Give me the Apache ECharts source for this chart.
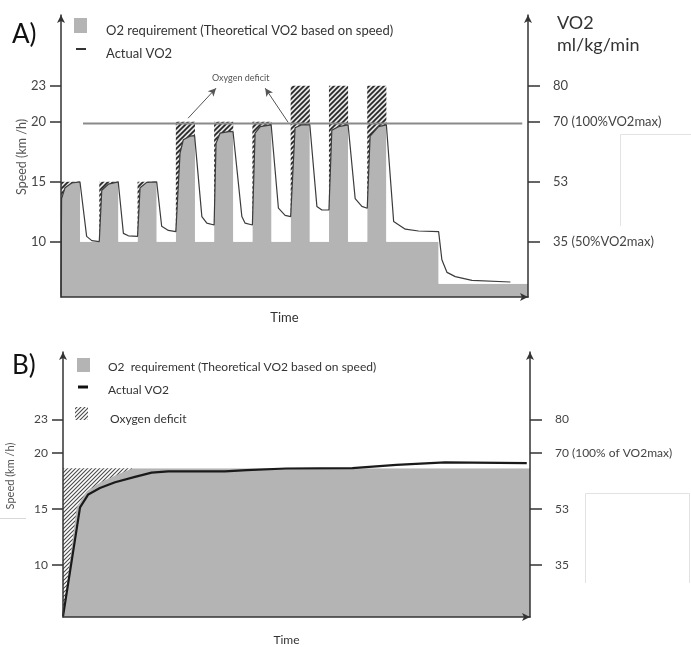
<!DOCTYPE html>
<html>
<head>
<meta charset="utf-8">
<script src="https://cdn.jsdelivr.net/npm/echarts@6/dist/echarts.min.js"></script>
<style>
  html, body { margin: 0; padding: 0; background: #fff; }
  #main { width: 691px; height: 647px; }
</style>
</head>
<body>
<div id="main"></div>
<script>
var dom = document.getElementById("main");
var myChart = echarts.init(dom);

// speed ticks shared by both panels, VO2 labels on the right
var speedTicks = [10, 15, 20, 23];
var vo2LabelsA = ['35 (50%VO2max)', '53', '70 (100%VO2max)', '80'];
var vo2LabelsB = ['35', '53', '70 (100% of VO2max)', '80'];

// panel A : intermittent runs  [time, speed]
var stepA = [
    [0, 15], [1, 10], [2, 15], [3, 10], [4, 15], [5, 10],
    [6, 20], [7, 10], [8, 20], [9, 10], [10, 20], [11, 10],
    [12, 23], [13, 10], [14, 23], [15, 10], [16, 23], [17, 10],
    [19.73, 6.5], [24.4, 6.5]
];
var vo2A = [
    [0, 5.5], [0.03, 13.6], [0.21, 14.5], [0.56, 14.9], [0.99, 15.0],
    [1.34, 10.45], [1.61, 10.1], [2.0, 10.02],
    [2.13, 14.3], [2.47, 14.8], [2.99, 15.0],
    [3.26, 10.7], [3.52, 10.5], [4.0, 10.45],
    [4.13, 14.5], [4.48, 14.95], [5.0, 15.0],
    [5.26, 11.3], [5.61, 10.95], [6.0, 10.85],
    [6.22, 17.4], [6.39, 18.5], [6.74, 18.8], [6.98, 18.85],
    [7.36, 12.1], [7.62, 11.55], [8.0, 11.4],
    [8.1, 18.2], [8.31, 19.05], [8.84, 19.2], [8.99, 19.15],
    [9.45, 12.1], [9.62, 11.55], [10.0, 11.4],
    [10.14, 19.05], [10.41, 19.6], [10.98, 19.75],
    [11.36, 12.8], [11.71, 12.2], [12.0, 12.1],
    [12.23, 19.5], [12.59, 19.75], [13.0, 19.75],
    [13.37, 12.95], [13.63, 12.65], [14.0, 12.65],
    [14.15, 19.3], [14.5, 19.6], [15.0, 19.75],
    [15.37, 13.6], [15.72, 12.95], [16.0, 12.8],
    [16.15, 18.8], [16.59, 19.6], [17.0, 19.75],
    [17.38, 11.7], [17.99, 11.05], [18.68, 10.9], [19.73, 10.85],
    [19.9, 8.5], [20.17, 7.45], [20.6, 7.1], [21.47, 6.78], [23.48, 6.65]
];
var maxLineA = [[1.15, 19.85], [24.1, 19.85]];
var arrowsA = [
    [[6.64, 20.3], [8.1, 22.8]],
    [[11.87, 19.95], [10.67, 22.8]]
];

// panel B : continuous run
var stepB = [[0, 18.65], [24.4, 18.65]];
var vo2B = [
    [0, 5.4], [0.89, 15.15], [1.32, 16.3], [1.93, 16.87], [2.72, 17.39],
    [3.76, 17.87], [4.63, 18.25], [5.5, 18.36], [8.46, 18.36], [9.6, 18.47],
    [11.67, 18.62], [15.12, 18.65], [17.42, 18.94], [19.96, 19.16], [24.23, 19.11]
];
var deficitEdgeB = [
    [0, 5.4], [0.72, 15.15], [1.24, 16.58], [2.02, 17.44], [3.07, 18.25], [3.76, 18.7]
];

var FONT = 'Lato';
var GREY = '#b4b4b4';

function hatch(bg, fg, size, width) {
    var c = document.createElement('canvas');
    c.width = size; c.height = size;
    var ctx = c.getContext('2d');
    ctx.fillStyle = bg;
    ctx.fillRect(0, 0, size, size);
    ctx.strokeStyle = fg;
    ctx.lineWidth = width;
    ctx.beginPath();
    ctx.moveTo(0, size); ctx.lineTo(size, 0);
    ctx.moveTo(-size, size); ctx.lineTo(size, -size);
    ctx.moveTo(0, 2 * size); ctx.lineTo(2 * size, 0);
    ctx.stroke();
    return { image: c, repeat: 'repeat' };
}
var hatchA = hatch('#e4e4e4', '#262626', 5, 1.7);
var hatchB = hatch('#ffffff', '#4a4a4a', 4, 1.1);

function xAx(grid, gap, fs) {
    return {
        type: 'value', gridIndex: grid, min: 0, max: 24.4, z: 10,
        axisLine: { show: true, onZero: false, symbol: ['none', 'arrow'], symbolSize: [6, 8],
            lineStyle: { color: '#333', width: 1.5 } },
        axisTick: { show: false }, axisLabel: { show: false }, splitLine: { show: false },
        name: 'Time', nameLocation: 'middle', nameGap: gap,
        nameTextStyle: { fontFamily: FONT, fontSize: fs, color: '#333', padding: [0, 20, 0, 0] }
    };
}
function yAx(grid, min, max, side, labels, fs) {
    return {
        type: 'value', gridIndex: grid, min: min, max: max, position: side, z: 10,
        axisLine: { show: true, onZero: false, symbol: ['none', 'arrow'], symbolSize: [6, 8],
            lineStyle: { color: '#333', width: 1.5 } },
        axisTick: { show: true, length: side === 'left' ? 11 : 12, customValues: speedTicks,
            lineStyle: { color: '#333', width: 1.5 } },
        axisLabel: {
            customValues: speedTicks,
            margin: side === 'left' ? 15 : 25,
            fontFamily: FONT, fontSize: fs, color: '#444',
            formatter: function (v) {
                var i = speedTicks.indexOf(v);
                return labels ? labels[i] : String(v);
            }
        },
        splitLine: { show: false }
    };
}

function panel(idx, step, vo2, edge, pattern, lineColor, lineWidth) {
    var base = { type: 'line', xAxisIndex: idx, yAxisIndex: idx * 2, symbol: 'none',
        animation: false, silent: true };
    return [
        echarts.util.extend({ name: 'O2 requirement (Theoretical VO2 based on speed)', data: step, step: 'end', z: 1,
            lineStyle: { width: 0 }, areaStyle: { color: GREY, opacity: 1, origin: 'start' } }, base),
        echarts.util.extend({ name: 'Oxygen deficit', data: edge, z: 2,
            lineStyle: { width: 0 }, areaStyle: { color: pattern, opacity: 1, origin: 'end' } }, base),
        echarts.util.extend({ name: 'cover', data: step, step: 'end', z: 3,
            lineStyle: { width: 0 }, areaStyle: { color: '#fff', opacity: 1, origin: 'end' } }, base),
        echarts.util.extend({ name: 'Actual VO2', data: vo2, z: 6,
            lineStyle: { color: lineColor, width: lineWidth } }, base)
    ];
}

var seriesA = panel(0, stepA, vo2A, vo2A, hatchA, '#3c3c3c', 1.2);
var seriesB = panel(1, stepB, vo2B, deficitEdgeB, hatchB, '#1a1a1a', 2.2);

seriesA.push({
    type: 'line', name: '100% VO2max', xAxisIndex: 0, yAxisIndex: 0, data: maxLineA,
    symbol: 'none', z: 5, animation: false, silent: true,
    lineStyle: { color: '#8a8a8a', width: 2 },
    markLine: {
        silent: true, animation: false, symbol: ['none', 'arrow'], symbolSize: [6, 8],
        label: { show: false },
        lineStyle: { color: '#555', width: 1, type: 'solid' },
        data: arrowsA.map(function (a) { return [{ coord: a[0] }, { coord: a[1] }]; })
    }
});

function txt(x, y, s, fs, color, extra) {
    var st = { text: s, x: x, y: y, fontFamily: FONT, fontSize: fs, fill: color || '#333',
        verticalAlign: 'middle' };
    if (extra) echarts.util.extend(st, extra);
    return { type: 'text', style: st, z: 20 };
}

option = {
    animation: false,
    grid: [
        { left: 61, top: 15, width: 467, height: 282 },
        { left: 63, top: 352, width: 467, height: 275 }
    ],
    xAxis: [xAx(0, 14, 13), xAx(1, 17, 12)],
    yAxis: [
        yAx(0, 5.4, 28.9, 'left', null, 13),
        yAx(0, 5.4, 28.9, 'right', vo2LabelsA, 13),
        yAx(1, 5.34, 29.04, 'left', null, 12),
        yAx(1, 5.34, 29.04, 'right', vo2LabelsB, 12)
    ],
    series: seriesA.concat(seriesB),
    graphic: [
        txt(12, 35, 'A)', 26, '#111'),
        txt(12, 366, 'B)', 26, '#111'),
        txt(557, 23, 'VO2', 18),
        txt(557, 45, 'ml/kg/min', 18),
        // legend A
        { type: 'rect', shape: { x: 74, y: 18, width: 13, height: 15 }, style: { fill: GREY }, z: 20 },
        txt(106, 31, 'O2 requirement (Theoretical VO2 based on speed)', 13),
        { type: 'line', shape: { x1: 76, y1: 49, x2: 86, y2: 49 }, style: { stroke: '#333', lineWidth: 2 }, z: 20 },
        txt(106, 54, 'Actual VO2', 13),
        txt(212, 78, 'Oxygen deficit', 9, '#555'),
        txt(22, 157, 'Speed (km /h)', 12.5, '#555', { align: 'center' }),
        // legend B
        { type: 'rect', shape: { x: 77, y: 358, width: 13, height: 14 }, style: { fill: GREY }, z: 20 },
        txt(108, 367, 'O2  requirement (Theoretical VO2 based on speed)', 12),
        { type: 'line', shape: { x1: 78, y1: 387, x2: 88, y2: 387 }, style: { stroke: '#111', lineWidth: 3 }, z: 20 },
        txt(108, 390, 'Actual VO2', 12),
        { type: 'rect', shape: { x: 75, y: 407, width: 13, height: 13 }, style: { fill: hatchB }, z: 20 },
        txt(110, 419, 'Oxygen deficit', 12),
        txt(10, 476, 'Speed (km /h)', 11, '#555', { align: 'center' }),
        // faint frame lines present in the source image
        { type: 'polyline', shape: { points: [[620.5, 226], [620.5, 134.5], [691, 134.5]] },
            style: { stroke: '#e2e2e2', fill: null, lineWidth: 1 }, z: 0 },
        { type: 'polyline', shape: { points: [[585.5, 583], [585.5, 493.5], [689.5, 493.5], [689.5, 583]] },
            style: { stroke: '#e2e2e2', fill: null, lineWidth: 1 }, z: 0 },
        { type: 'line', shape: { x1: 0, y1: 518.5, x2: 26, y2: 518.5 }, style: { stroke: '#d8d8d8', lineWidth: 1 }, z: 0 }
    ]
};
// rotate the two speed titles
option.graphic.forEach(function (g) {
    if (g.style && g.style.text === 'Speed (km /h)') {
        g.x = g.style.x; g.y = g.style.y;
        g.style.x = 0; g.style.y = 0;
        g.rotation = Math.PI / 2;
    }
});

if (option && typeof option === "object") {
    myChart.setOption(option, true);
}
</script>
</body>
</html>
